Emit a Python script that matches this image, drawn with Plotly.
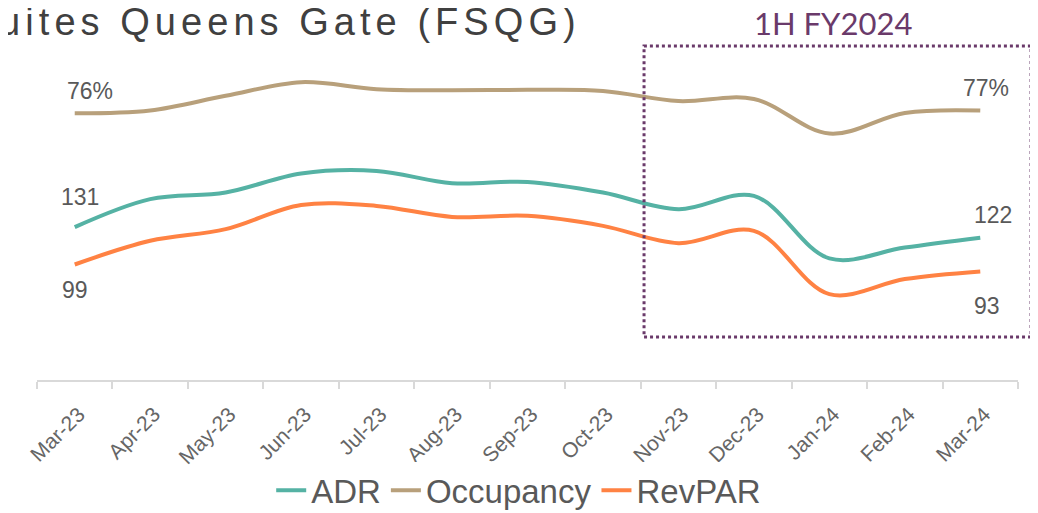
import plotly.graph_objects as go

months = ["Mar-23", "Apr-23", "May-23", "Jun-23", "Jul-23", "Aug-23", "Sep-23",
          "Oct-23", "Nov-23", "Dec-23", "Jan-24", "Feb-24", "Mar-24"]
adr = [131, 155, 160.7, 177, 179.2, 168.7, 169.8, 160.7, 146.4, 157.8, 104.2, 113.6, 122]
occupancy = [76.2, 77.0, 81.2, 85.1, 83.1, 82.8, 82.9, 82.6, 79.7, 80.3, 70.4, 76.3, 77.0]
revpar = [99, 119.3, 129.3, 150, 149.2, 139.8, 140.7, 132.1, 117.3, 127.8, 73.6, 86.5, 93]

C_ADR = "#55B2A4"
C_OCC = "#B8A07B"
C_REV = "#FF8243"
PURPLE = "#6A3A6A"
GRAY = "#595959"
SANS = "Liberation Sans, Arial, sans-serif"

fig = go.Figure()
fig.add_trace(go.Scatter(x=months, y=adr, name="ADR", mode="lines",
                         line=dict(color=C_ADR, width=4, shape="spline", smoothing=1.0)))
fig.add_trace(go.Scatter(x=months, y=occupancy, name="Occupancy", mode="lines", yaxis="y2",
                         line=dict(color=C_OCC, width=4, shape="spline", smoothing=1.0)))
fig.add_trace(go.Scatter(x=months, y=revpar, name="RevPAR", mode="lines",
                         line=dict(color=C_REV, width=4, shape="spline", smoothing=1.0)))

lab_font = dict(family=SANS, size=23, color=GRAY)
labels = [
    (0, occupancy[0], "y2", f"{round(occupancy[0])}%", 15, 22),
    (0, adr[0], "y", f"{round(adr[0])}", 5, 30),
    (0, revpar[0], "y", f"{round(revpar[0])}", 0, -25),
    (12, occupancy[12], "y2", f"{round(occupancy[12])}%", 6, 23),
    (12, adr[12], "y", f"{round(adr[12])}", 13, 23),
    (12, revpar[12], "y", f"{round(revpar[12])}", 7, -34),
]
for xi, yv, yr, txt, xs, ys in labels:
    fig.add_annotation(x=months[xi], y=yv, xref="x", yref=yr, text=txt, showarrow=False,
                       xshift=xs, yshift=ys, font=lab_font)

# Title (partially cut at the left edge as in the reference)
fig.add_annotation(x=0.557, y=1.023, xref="paper", yref="paper", xanchor="right", yanchor="middle",
                   text='<span style="letter-spacing:5.05px">Fraser Suites Queens Gate (FSQG)</span>',
                   showarrow=False,
                   font=dict(family=SANS, size=38, color="#404040"))

# 1H FY2024 highlight
fig.add_annotation(x=0.811, y=1.02, xref="paper", yref="paper", xanchor="center", yanchor="middle",
                   text="1H FY2024", showarrow=False,
                   font=dict(family="Lato, sans-serif", size=31, color=PURPLE))
fig.add_shape(type="rect", xref="paper", yref="paper", x0=0.6188, x1=1.0133, y0=0.123, y1=0.954,
              line=dict(color=PURPLE, width=3, dash="dot"), fillcolor="rgba(0,0,0,0)")

fig.update_layout(
    width=1038, height=513,
    margin=dict(l=29, r=28, t=22, b=141, autoexpand=False),
    paper_bgcolor="white", plot_bgcolor="white",
    showlegend=True,
    legend=dict(orientation="h", x=0.492, xanchor="center", xref="container",
                y=0.06, yanchor="middle", yref="container",
                font=dict(family=SANS, size=33, color=GRAY),
                tracegroupgap=0),
    xaxis=dict(type="category", range=[-0.5, 12.5], showgrid=False, zeroline=False,
               automargin=False,
               showline=True, linecolor="#D9D9D9", linewidth=1.5,
               ticks="outside", ticklen=7, tickcolor="#D9D9D9", tickwidth=1.5,
               tickson="boundaries", tickangle=-45, ticklabelstandoff=12, ticklabelshift=4,
               tickfont=dict(family=SANS, size=21, color="#666666")),
    yaxis=dict(range=[0, 300], visible=False, showgrid=False, zeroline=False),
    yaxis2=dict(range=[0, 100], overlaying="y", side="right", visible=False,
                showgrid=False, zeroline=False),
)

fig.write_html("out.html")
